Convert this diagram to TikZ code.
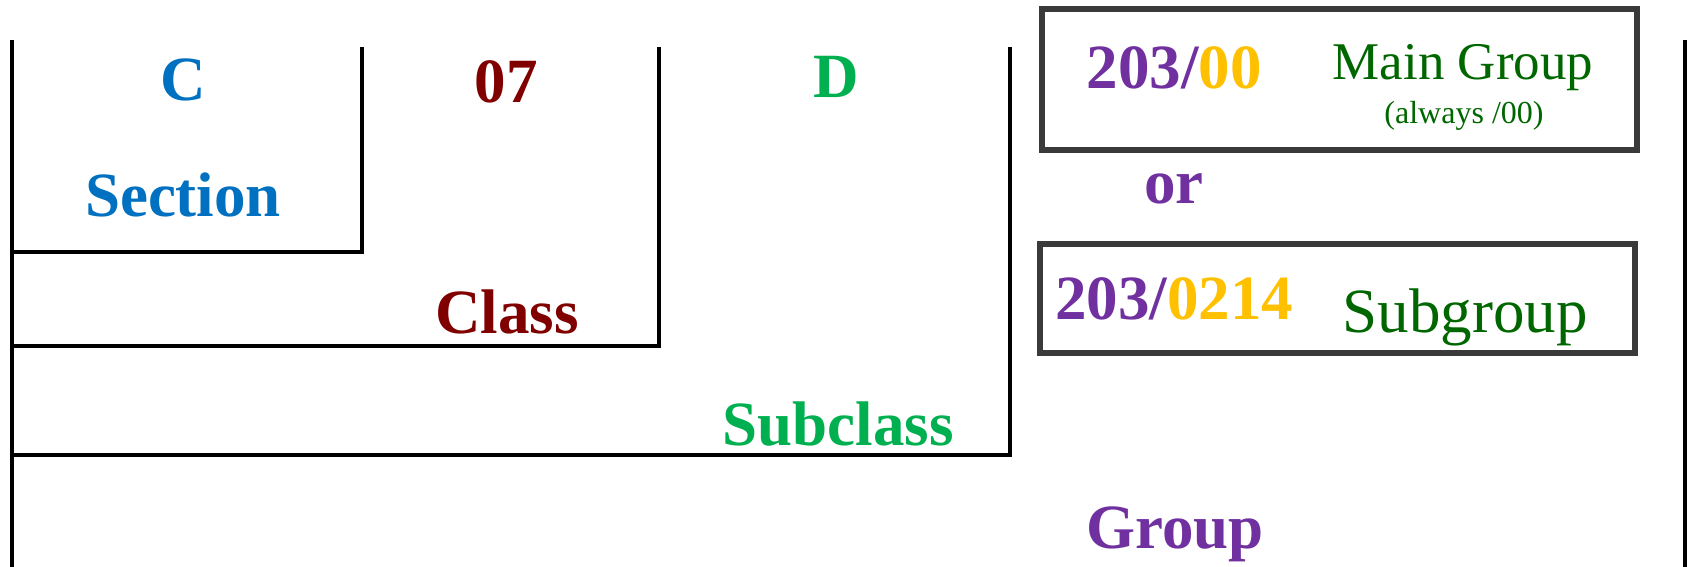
\documentclass[tikz,border=0pt]{standalone}
\usepackage{fontspec}
\setmainfont{Liberation Serif}
\definecolor{secblue}{HTML}{0070C0}
\definecolor{clsred}{HTML}{800000}
\definecolor{subgreen}{HTML}{00B050}
\definecolor{grppurple}{HTML}{7030A0}
\definecolor{gold}{HTML}{FFC000}
\definecolor{dkgreen}{HTML}{006600}
\definecolor{boxgray}{HTML}{3A3A3A}
\tikzset{
  lbl/.style={anchor=base, inner sep=0pt, font=\fontsize{63}{63}\selectfont\bfseries},
  lblreg/.style={anchor=base, inner sep=0pt, font=\fontsize{63}{63}\selectfont, text=dkgreen},
  bracket/.style={draw=black, line width=3.5pt},
  codebox/.style={draw=boxgray, line width=6pt},
}
\begin{document}
\begin{tikzpicture}[x=1pt,y=-1pt]
\useasboundingbox (0,0) rectangle (1689,567);
% brackets
\coordinate (lt) at (12,40);
\coordinate (lb) at (12,567);
\coordinate (rt) at (1685,40);
\coordinate (rb) at (1685,567);
\draw[bracket] (lt) -- (lb);
\draw[bracket] (rt) -- (rb);
\draw[bracket] (362,47) -- (362,252) -- (12,252);
\draw[bracket] (659,47) -- (659,346) -- (12,346);
\draw[bracket] (1010,47) -- (1010,455) -- (12,455);
% code boxes
\draw[codebox] (1041.5,9) rectangle (1636.5,150);
\draw[codebox] (1040,244) rectangle (1635,352.5);
% labels
\node[lbl, text=secblue] (c) at (183,101) {C};
\node[lbl, text=secblue] (section) at (183,216) {Section};
\node[lbl, text=clsred] (o7) at (506,103) {07};
\node[lbl, text=clsred] (class) at (507,333) {Class};
\node[lbl, text=subgreen] (d) at (836,98) {D};
\node[lbl, text=subgreen] (subclass) at (838,445) {Subclass};
\node[lbl, text=grppurple] (group) at (1175,548) {Group};
\node[lbl] (maincode) at (1174,89) {{\color{grppurple}203/}{\color{gold}00}};
\node[lbl, text=grppurple] (or) at (1174,203) {or};
\node[lbl] (subcode) at (1174,319) {{\color{grppurple}203/}{\color{gold}0214}};
\node[anchor=base, inner sep=0pt, font=\fontsize{53}{53}\selectfont, text=dkgreen] (main) at (1463,80) {Main Group};
\node[anchor=base, inner sep=0pt, font=\fontsize{32}{32}\selectfont, text=dkgreen] (always) at (1464,124) {(always /00)};
\node[lblreg] (subgroup) at (1465,332) {Subgroup};
\end{tikzpicture}
\end{document}
